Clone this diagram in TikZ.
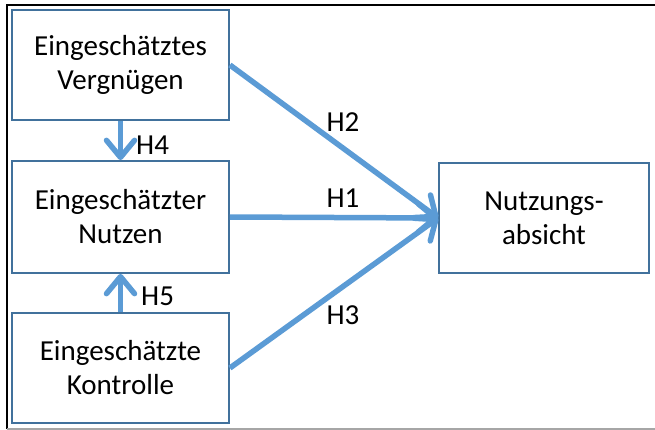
\documentclass[tikz,border=0pt]{standalone}
\usepackage{fontspec}
\setmainfont{Carlito}
\usetikzlibrary{arrows.meta}
\definecolor{boxblue}{HTML}{41719C}
\definecolor{arrblue}{HTML}{5B9BD5}
\begin{document}
\begin{tikzpicture}[x=1pt,y=-1pt,
  box/.style={draw=boxblue,line width=1.8pt,fill=white,align=center,inner sep=0pt,
    font=\fontsize{29}{34}\selectfont},
  conn/.style={draw=arrblue,line width=5.5pt,-{Straight Barb[length=17pt,width=28pt,round]}},
  hlab/.style={font=\fontsize{29}{34}\selectfont,inner sep=0pt}]
\useasboundingbox (0,0) rectangle (655,430);
\draw[black,line width=2pt] (7,429) -- (7,5) -- (655,5);
\draw[gray!70,line width=1.5pt] (7,429) -- (655,429);
\node[box,minimum width=217pt,minimum height=110pt] (b1) at (120.5,65) {Eingeschätztes\\Vergnügen};
\node[box,minimum width=217pt,minimum height=112pt] (b2) at (120.5,217) {Eingeschätzter\\Nutzen};
\node[box,minimum width=217pt,minimum height=110pt] (b3) at (120.5,368) {Eingeschätzte\\Kontrolle};
\node[box,minimum width=210pt,minimum height=110pt] (b4) at (544,218) {Nutzungs-\\absicht};
\draw[conn] (b1.south) -- (b2.north);
\draw[conn] (b3.north) -- (b2.south);
\draw[conn] (b1.east) -- (b4.west);
\draw[conn] (b2.east) -- (b4.west);
\draw[conn] (b3.east) -- (b4.west);
\node[hlab,anchor=west] (h4) at (136,145) {H4};
\node[hlab,anchor=west] (h5) at (141,296) {H5};
\node[hlab] (h2) at (343,122) {H2};
\node[hlab] (h1) at (343,198) {H1};
\node[hlab] (h3) at (343,315) {H3};
\end{tikzpicture}
\end{document}
